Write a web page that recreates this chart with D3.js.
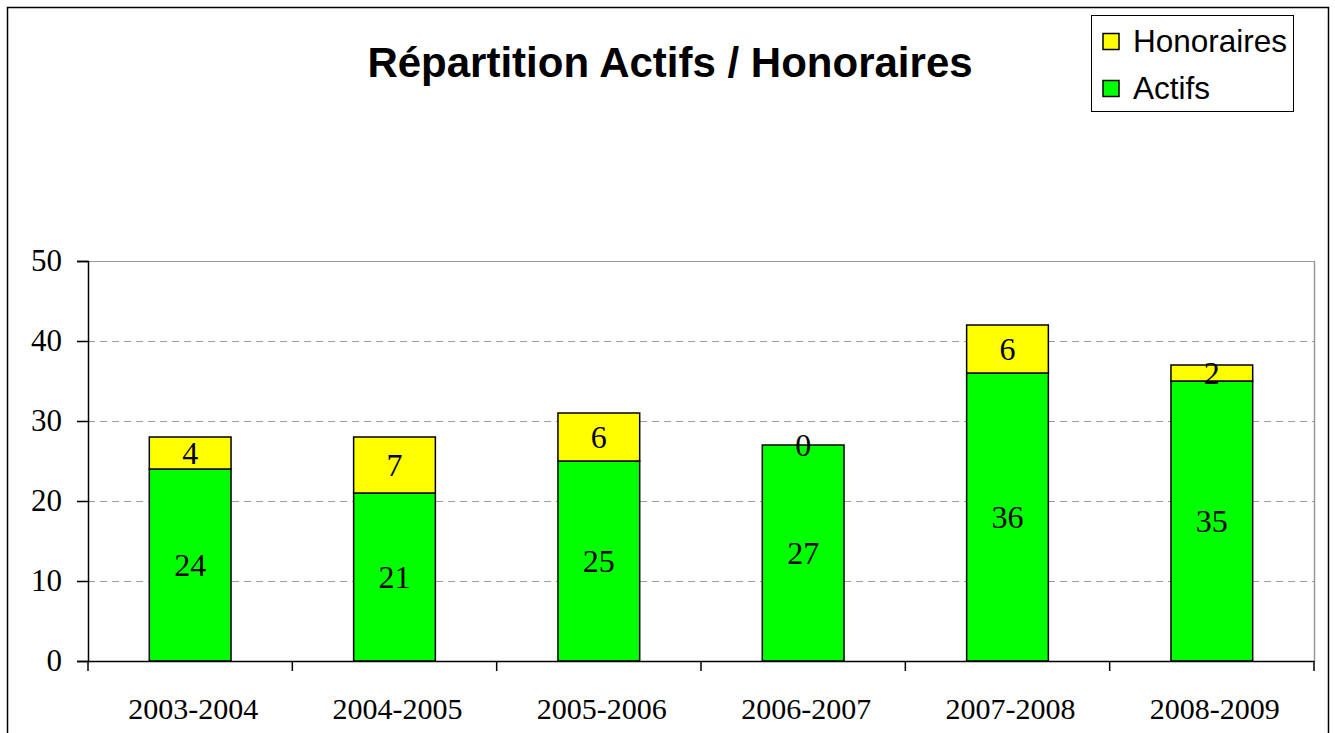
<!DOCTYPE html>
<html>
<head>
<meta charset="utf-8">
<script src="https://cdn.jsdelivr.net/npm/d3@7"></script>
<style>
  body { margin: 0; background: #fff; }
  svg { display: block; }
</style>
</head>
<body>
<div id="chart"></div>
<script>
var width = 1335, height = 733;

// data
var seasons = ["2003-2004", "2004-2005", "2005-2006", "2006-2007", "2007-2008", "2008-2009"];
var actifs = [24, 21, 25, 27, 36, 35];
var honoraires = [4, 7, 6, 0, 6, 2];
var yTicks = [0, 10, 20, 30, 40, 50];

var margin = {left: 88, right: 1314, top: 261, bottom: 661};
var serif = "'Liberation Serif', 'Times New Roman', serif";
var sans = "'Liberation Sans', Arial, sans-serif";

var svg = d3.select("#chart").append("svg")
  .attr("width", width)
  .attr("height", height);

// outer frame
svg.append("rect")
  .attr("x", 7.5).attr("y", 7.5)
  .attr("width", 1321).attr("height", 740)
  .attr("fill", "none").attr("stroke", "#000").attr("stroke-width", 1.5);

var x = d3.scaleBand().domain(seasons).range([margin.left, margin.right]).paddingInner(0.6).paddingOuter(0.3);
var xb = d3.scaleBand().domain(seasons).range([margin.left, margin.right]);
var y = d3.scaleLinear().domain([0, 50]).range([margin.bottom, margin.top]);

// gridlines
svg.append("g").selectAll("line")
  .data(yTicks.filter(function(d){ return d > 0; }))
  .enter().append("line")
  .attr("x1", margin.left).attr("x2", margin.right)
  .attr("y1", function(d){ return y(d) + 0.5; })
  .attr("y2", function(d){ return y(d) + 0.5; })
  .attr("stroke", "#999")
  .attr("stroke-width", 1)
  .attr("stroke-dasharray", function(d){ return d === 50 ? null : "7,5"; });

// right plot border
svg.append("line")
  .attr("x1", margin.right + 0.5).attr("x2", margin.right + 0.5)
  .attr("y1", margin.top).attr("y2", margin.bottom)
  .attr("stroke", "#999").attr("stroke-width", 1.5);

var stack = d3.stack().keys(["actifs", "honoraires"]);
var rows = seasons.map(function(s, i){ return {season: s, actifs: actifs[i], honoraires: honoraires[i]}; });
var series = stack(rows);
var colors = {actifs: "#00ff00", honoraires: "#ffff00"};

series.forEach(function(layer){
  var g = svg.append("g");
  g.selectAll("rect").data(layer).enter().append("rect")
    .filter(function(d){ return d[1] - d[0] > 0; })
    .attr("x", function(d){ return x(d.data.season); })
    .attr("width", x.bandwidth())
    .attr("y", function(d){ return y(d[1]); })
    .attr("height", function(d){ return y(d[0]) - y(d[1]); })
    .attr("fill", colors[layer.key])
    .attr("stroke", "#000")
    .attr("stroke-width", 1.5);
});

// value labels
series.forEach(function(layer){
  svg.append("g").selectAll("text").data(layer).enter().append("text")
    .attr("x", function(d){ return x(d.data.season) + x.bandwidth() / 2; })
    .attr("y", function(d){ return (y(d[0]) + y(d[1])) / 2; })
    .attr("dy", "0.35em")
    .attr("text-anchor", "middle")
    .attr("font-family", serif)
    .attr("font-size", 32)
    .text(function(d){ return d.data[layer.key]; });
});

// y axis
var yAxis = svg.append("g")
  .attr("transform", "translate(" + margin.left + ",0)")
  .call(d3.axisLeft(y).tickValues(yTicks).tickSize(11).tickPadding(15));
yAxis.select(".domain").attr("stroke", "#000").attr("stroke-width", 1.5);
yAxis.selectAll(".tick line").attr("stroke", "#000").attr("stroke-width", 1.5);
yAxis.selectAll("text")
  .attr("font-family", serif)
  .attr("font-size", 31).attr("fill", "#000");

// x axis
var xAxis = svg.append("g")
  .attr("transform", "translate(0," + margin.bottom + ")")
  .call(d3.axisBottom(xb).tickSize(0).tickPadding(37));
xAxis.select(".domain").attr("stroke", "#000").attr("stroke-width", 1.5);
xAxis.selectAll("text")
  .attr("font-family", serif)
  .attr("font-size", 30).attr("fill", "#000")
  .attr("dx", 3);
var bounds = seasons.map(function(s){ return xb(s); }).concat([margin.right]);
svg.append("g").selectAll("line").data(bounds).enter().append("line")
  .attr("x1", function(d){ return d; }).attr("x2", function(d){ return d; })
  .attr("y1", margin.bottom).attr("y2", margin.bottom + 10)
  .attr("stroke", "#000").attr("stroke-width", 1.5);

// title
svg.append("text")
  .attr("x", 670).attr("y", 77)
  .attr("text-anchor", "middle")
  .attr("font-family", sans)
  .attr("font-weight", "bold")
  .attr("font-size", 42)
  .text("Répartition Actifs / Honoraires");

// legend
var legend = svg.append("g");
legend.append("rect")
  .attr("x", 1091.5).attr("y", 15.5).attr("width", 202).attr("height", 96)
  .attr("fill", "#fff").attr("stroke", "#000").attr("stroke-width", 1);
var legendItems = [{key: "honoraires", label: "Honoraires"}, {key: "actifs", label: "Actifs"}];
legend.selectAll("g").data(legendItems).enter().append("g")
  .each(function(d, i){
    var gy = 41 + i * 47;
    d3.select(this).append("rect")
      .attr("x", 1103).attr("y", gy - 7.5).attr("width", 16).attr("height", 16)
      .attr("fill", colors[d.key]).attr("stroke", "#000").attr("stroke-width", 1.5);
    d3.select(this).append("text")
      .attr("x", 1133).attr("y", gy + 11)
      .attr("font-family", sans)
      .attr("font-size", 31.5)
      .text(d.label);
  });
</script>
</body>
</html>
